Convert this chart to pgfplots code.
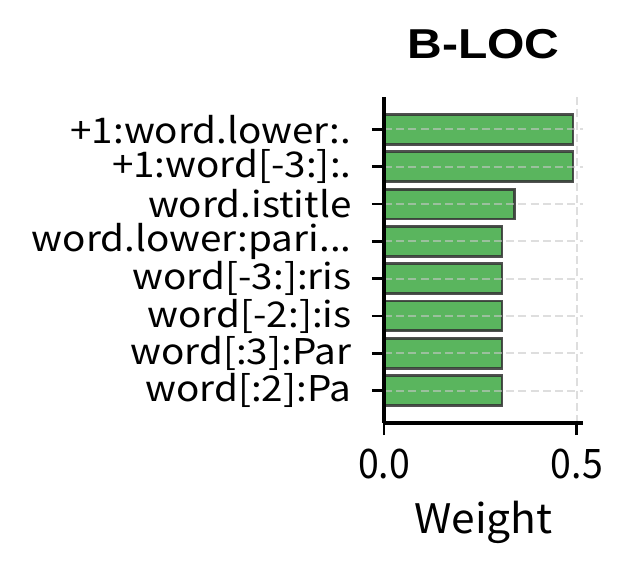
\documentclass[border=0pt]{standalone}
\usepackage{pgfplots}
\pgfplotsset{compat=1.18}
\usepackage{fontspec}
\setmainfont{Noto Sans CJK JP}
\newfontfamily\labfont{Noto Sans CJK JP}[FakeStretch=1.09]
\newfontfamily\tickfont{Noto Sans CJK JP}[FakeStretch=0.92]
\newfontfamily\xlabfont{Noto Sans CJK JP}[FakeStretch=1.045]
\newfontfamily\titlefont{Liberation Sans}[FakeStretch=1.15]
\definecolor{barg}{RGB}{76,175,80}
\definecolor{edgeg}{RGB}{51,51,51}
\definecolor{gridg}{RGB}{200,200,200}
\begin{document}
\begin{tikzpicture}
\useasboundingbox (-138.24bp,-54.36bp) rectangle (90.36bp,152.28bp);
\begin{axis}[
  at={(0,0)}, anchor=south west,
  scale only axis,
  width=71.64bp, height=117.36bp,
  xmin=0, xmax=0.516,
  ymin=-0.87, ymax=7.87,
  axis x line*=bottom, axis y line*=left,
  axis line style={line width=1.1bp, -},
  axis on top,
  xtick={0,0.5},
  xticklabels={0.0,0.5},
  ytick={0,1,2,3,4,5,6,7},
  yticklabels={{word[:2]:Pa},{word[:3]:Par},{word[-2:]:is},{word[-3:]:ris},{word.lower:pari.{}.{}.},{word.istitle},{+1:word[-3:]:.},{+1:word.lower:.}},
  tick align=outside,
  major tick length=4.32bp,
  tick style={line width=1.0bp, black},
  grid=major,
  major grid style={line width=0.7bp, color=gridg, opacity=0.6, dash pattern=on 2.9bp off 1.5bp},
  xticklabel style={font=\tickfont\fontsize{14.7}{17}\selectfont, anchor=north, inner sep=0pt, yshift=-4.68bp},
  yticklabel style={font=\labfont\fontsize{12.8}{15}\selectfont, anchor=east, inner sep=0pt, xshift=-7.2bp},
  xlabel={Weight},
  xlabel style={font=\xlabfont\fontsize{14.7}{17}\selectfont, at={(axis description cs:0.5,0)}, anchor=base, yshift=-39.6bp, inner sep=0pt},
  title={B-LOC},
  title style={font=\titlefont\bfseries\fontsize{15.1}{18}\selectfont, at={(axis description cs:0.5,1)}, anchor=base, yshift=7.9bp, inner sep=0pt},
  xbar, bar width=0.8, bar shift=0pt,
]
\addplot[fill=barg, fill opacity=0.92, draw=edgeg, draw opacity=0.85, line width=1.0bp] coordinates {
  (0.306,0) (0.306,1) (0.306,2) (0.306,3) (0.306,4) (0.339,5) (0.490,6) (0.490,7)
};
\end{axis}
\end{tikzpicture}
\end{document}
